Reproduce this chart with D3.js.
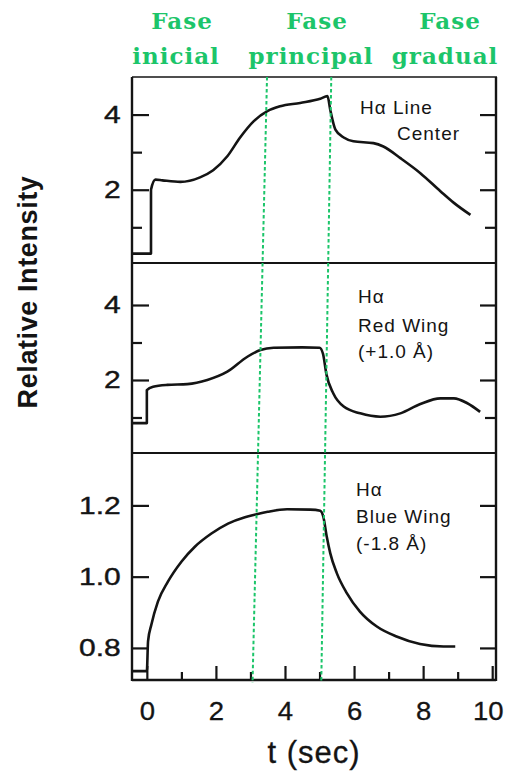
<!DOCTYPE html>
<html>
<head>
<meta charset="utf-8">
<script src="https://cdn.jsdelivr.net/npm/d3@7"></script>
<style>
  html, body { margin: 0; padding: 0; background: #fff; }
  svg { display: block; }
</style>
</head>
<body>
<svg id="chart" width="507" height="773"></svg>
<script>
// ---- data -------------------------------------------------------------
// time axis (seconds)
const timeTicks = [0, 2, 4, 6, 8, 10];
const timeMinorTicks = [1, 3, 5, 7, 9];

// H-alpha line centre
const centerTime      = [-0.43, 0.12, 0.12, 0.25, 0.45, 0.97, 1.54, 1.92, 2.33, 2.70, 3.09, 3.49, 3.86, 4.44, 5.02, 5.23, 5.31, 5.46, 5.70, 5.98, 6.56, 6.85, 7.34, 7.92, 8.50, 8.89, 9.37];
const centerIntensity = [0.30, 0.30, 2.00, 2.27, 2.25, 2.21, 2.33, 2.52, 2.89, 3.39, 3.82, 4.09, 4.22, 4.31, 4.42, 4.49, 4.13, 3.60, 3.39, 3.29, 3.24, 3.15, 2.84, 2.44, 1.96, 1.65, 1.33];
const centerTicks = [2, 4];
const centerMinorTicks = [1, 3];

// H-alpha red wing (+1.0 A)
const redTime      = [-0.43, 0.00, 0.00, 0.18, 0.59, 1.17, 1.75, 2.33, 2.91, 3.29, 3.67, 4.50, 5.00, 5.10, 5.20, 5.40, 5.70, 6.18, 6.76, 7.34, 7.92, 8.50, 8.89, 9.28, 9.65];
const redIntensity = [0.85, 0.85, 1.73, 1.82, 1.87, 1.89, 2.00, 2.22, 2.62, 2.80, 2.86, 2.87, 2.86, 2.70, 2.15, 1.64, 1.29, 1.11, 1.02, 1.11, 1.36, 1.51, 1.51, 1.38, 1.15];
const redTicks = [2, 4];
const redMinorTicks = [1, 3];

// H-alpha blue wing (-1.8 A)
const blueTime      = [-0.43, 0.00, 0.035, 0.13, 0.32, 0.61, 1.00, 1.39, 1.87, 2.35, 2.84, 3.12, 3.50, 4.06, 4.73, 5.02, 5.11, 5.21, 5.31, 5.50, 5.79, 6.17, 6.66, 7.23, 7.91, 8.59, 8.93];
const blueIntensity = [0.735, 0.735, 0.819, 0.865, 0.930, 0.986, 1.042, 1.084, 1.121, 1.149, 1.167, 1.174, 1.182, 1.189, 1.188, 1.185, 1.168, 1.112, 1.066, 1.010, 0.954, 0.902, 0.860, 0.832, 0.811, 0.804, 0.804];
const blueTicks = [0.8, 1.0, 1.2];

// flare phases and the boundaries between them (t at top and bottom of the plot)
const phaseNames = [["Fase", "inicial"], ["Fase", "principal"], ["Fase", "gradual"]];
const phaseBoundTop = [3.48, 5.34];
const phaseBoundBottom = [3.06, 5.05];

// ---- layout -----------------------------------------------------------
const svg = d3.select("#chart");
const left = 132, right = 496, plotTop = 77, plotBottom = 680;
const ink = "#141414";
const green = "#1cc56a";

const x = d3.scaleLinear().domain([-0.43, 10.11]).range([left, right]);

const panels = [
  { time: centerTime, value: centerIntensity, top: 77, bottom: 263, domain: [0.05, 5.0],
    major: centerTicks, minor: centerMinorTicks, fmt: d3.format("d"),
    text: [["Hα Line", 360, 114], ["Center", 397, 140]] },
  { time: redTime, value: redIntensity, top: 263, bottom: 453, domain: [0.053, 5.12],
    major: redTicks, minor: redMinorTicks, fmt: d3.format("d"),
    text: [["Hα", 358, 303], ["Red Wing", 358, 332], ["(+1.0 Å)", 358, 358]] },
  { time: blueTime, value: blueIntensity, top: 453, bottom: 680, domain: [0.71, 1.347],
    major: blueTicks, minor: [], fmt: d3.format(".1f"),
    text: [["Hα", 356, 496], ["Blue Wing", 356, 523], ["(-1.8 Å)", 356, 550]] }
];

const labelFont = "'Liberation Sans', Arial, sans-serif";

panels.forEach(p => {
  const y = d3.scaleLinear().domain(p.domain).range([p.bottom, p.top]);
  const g = svg.append("g");

  // left axis: major ticks with labels, minor ticks without
  const la = g.append("g").attr("transform", `translate(${left},0)`)
    .call(d3.axisLeft(y).tickValues(p.major).tickFormat(p.fmt).tickSize(-17).tickPadding(9));
  la.append("g").call(d3.axisLeft(y).tickValues(p.minor).tickFormat("").tickSize(-10));
  // right axis, ticks only
  const ra = g.append("g").attr("transform", `translate(${right},0)`)
    .call(d3.axisRight(y).tickValues(p.major).tickFormat("").tickSize(-16));
  ra.append("g").call(d3.axisRight(y).tickValues(p.minor).tickFormat("").tickSize(-11));

  g.selectAll(".domain").remove();
  g.selectAll(".tick line").attr("stroke", ink).attr("stroke-width", 2.2);
  la.selectAll(".tick text")
    .attr("fill", ink)
    .attr("font-family", labelFont)
    .attr("font-size", 24)
    .attr("stroke", ink).attr("stroke-width", 0.4)
    .attr("transform", "scale(1.25,1)");

  // light curve
  const line = d3.line()
    .x((d, i) => x(p.time[i]))
    .y(d => y(d))
    .curve(d3.curveMonotoneX);
  g.append("path")
    .datum(p.value)
    .attr("d", line)
    .attr("fill", "none")
    .attr("stroke", ink)
    .attr("stroke-width", 2.6)
    .attr("stroke-linejoin", "round");

  // panel caption
  g.selectAll("text.caption").data(p.text).join("text")
    .attr("class", "caption")
    .attr("x", d => d[1])
    .attr("y", d => d[2])
    .attr("font-family", labelFont)
    .attr("font-size", 19)
    .attr("letter-spacing", 1)
    .attr("fill", ink)
    .text(d => d[0]);
});

// panel frames and dividers
const frame = svg.append("g").attr("fill", "none").attr("stroke", ink);
frame.append("line").attr("x1", left).attr("x2", right + 1).attr("y1", plotTop).attr("y2", plotTop).attr("stroke-width", 1.6);
frame.append("line").attr("x1", left).attr("x2", left).attr("y1", plotTop).attr("y2", plotBottom + 1).attr("stroke-width", 2.4);
frame.append("line").attr("x1", right).attr("x2", right).attr("y1", plotTop).attr("y2", plotBottom + 1).attr("stroke-width", 2.4);
[263, 453].forEach(yy => frame.append("line").attr("x1", left).attr("x2", right).attr("y1", yy).attr("y2", yy).attr("stroke-width", 2));

// time axis along the bottom
const xa = svg.append("g").attr("transform", `translate(0,${plotBottom})`)
  .call(d3.axisBottom(x).tickValues(timeTicks).tickFormat(d3.format("d")).tickSize(-14).tickPadding(22));
xa.append("g").call(d3.axisBottom(x).tickValues(timeMinorTicks).tickFormat("").tickSize(-8));
xa.selectAll(".domain").remove();
xa.append("line").attr("x1", left).attr("x2", right).attr("stroke", ink).attr("stroke-width", 2.6);
xa.selectAll(".tick line").attr("stroke", ink).attr("stroke-width", 2.2);
xa.selectAll(".tick text")
  .attr("fill", ink)
  .attr("font-family", labelFont)
  .attr("font-size", 25)
  .attr("stroke", ink).attr("stroke-width", 0.3)
  .attr("transform", "scale(1.1,1)")
  .attr("x", 0);
// keep the last label inside the page
xa.selectAll(".tick text").filter(d => d === 10).attr("x", -4);

// axis titles
svg.append("text")
  .attr("transform", "translate(37,292) rotate(-90)")
  .attr("text-anchor", "middle")
  .attr("font-family", labelFont)
  .attr("font-weight", "bold")
  .attr("font-size", 27)
  .attr("letter-spacing", 0.6)
  .attr("fill", ink)
  .text("Relative Intensity");

svg.append("text")
  .attr("x", 314).attr("y", 763)
  .attr("text-anchor", "middle")
  .attr("font-family", labelFont)
  .attr("font-size", 31)
  .attr("letter-spacing", 1)
  .attr("fill", ink)
  .attr("stroke", ink).attr("stroke-width", 0.3)
  .text("t (sec)");

// phase boundaries
svg.append("g").selectAll("line").data(phaseBoundTop).join("line")
  .attr("x1", d => x(d)).attr("y1", plotTop)
  .attr("x2", (d, i) => x(phaseBoundBottom[i])).attr("y2", plotBottom + 3)
  .attr("stroke", green)
  .attr("stroke-width", 2)
  .attr("stroke-dasharray", "3.5,2.5");

// phase headings
const headX = [[182, 176], [317, 311], [450, 445]];
const head = svg.append("g")
  .attr("font-family", "'DejaVu Serif', serif")
  .attr("font-weight", "bold")
  .attr("font-size", 23)
  .attr("fill", green)
  .attr("text-anchor", "middle");
phaseNames.forEach((names, i) => {
  head.append("text").attr("x", headX[i][0]).attr("y", 29).attr("letter-spacing", 1).text(names[0]);
  head.append("text").attr("x", headX[i][1]).attr("y", 64).attr("letter-spacing", 1).text(names[1]);
});
</script>
</body>
</html>
